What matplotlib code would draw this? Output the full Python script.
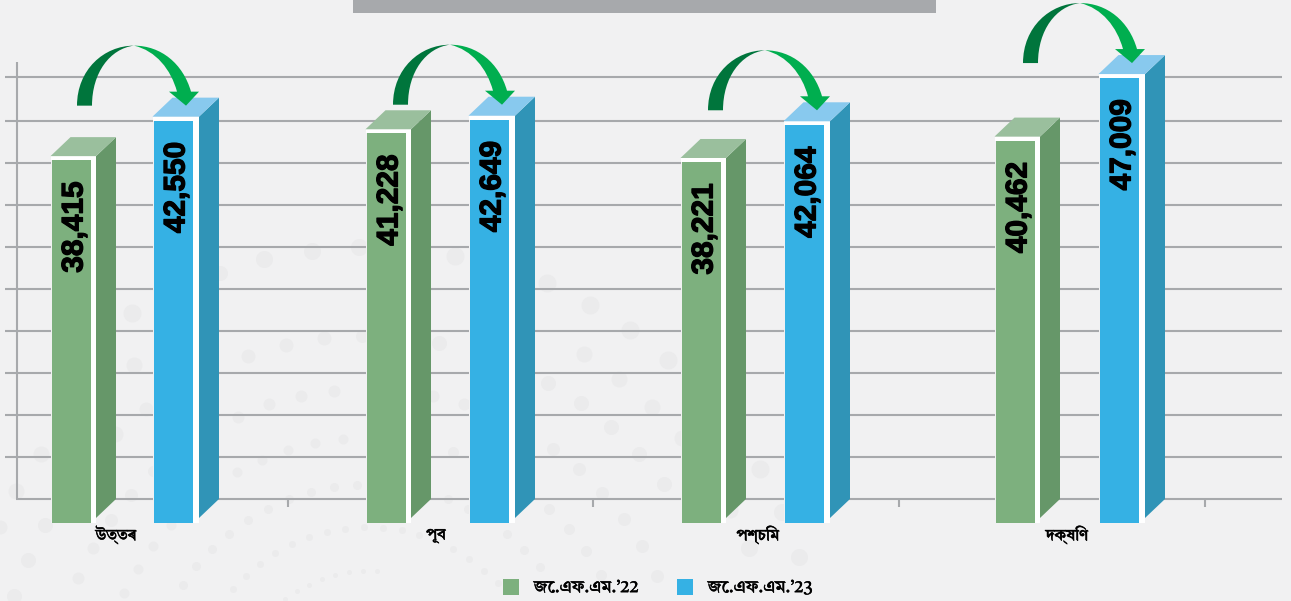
import matplotlib
matplotlib.use("Agg")
import matplotlib.pyplot as plt
import matplotlib.patheffects as pe
from matplotlib.patches import PathPatch, Rectangle
from matplotlib.path import Path

regions = ["উত্তৰ", "পূব", "পশ্চিম", "দক্ষিণ"]
series_names = ["জে.এফ.এম.’22", "জে.এফ.এম.’23"]
jfm_22 = [38415, 41228, 38221, 40462]
jfm_23 = [42550, 42649, 42064, 47009]

# layout, all in reference pixels
green_x = [52, 367, 682, 996]
blue_x = [154, 470, 785, 1100]
label_x = [116, 436, 758, 1067]
tick_x = [288, 593, 899, 1205]
grid_y = [77, 121, 163, 205, 247, 289, 331, 373, 415, 457]

BG = "#f1f1f2"
GREY = "#a7a9ac"
DOT = "#ebebec"
GREEN = ("#7db07e", "#669769", "#9abf9d")
BLUE = ("#35b1e4", "#3094b7", "#88c9ee")
ARROW_DARK = "#00753c"
ARROW_LIGHT = "#00ae4f"
BN_FONTS = ["Tiro Bangla", "Noto Sans Bengali", "DejaVu Sans"]

# faint dots of the page background: x, y, diameter in pixels
dots = [
    (264, 259, 17), (312, 251, 17), (359, 247, 17), (220, 273, 15), (132, 313, 18),
    (248, 356, 14), (286, 345, 14), (324, 338, 14), (362, 336, 13), (134, 365, 16),
    (301, 396, 12), (269, 404, 12), (334, 391, 12), (238, 417, 12), (146, 409, 14),
    (115, 434, 16), (315, 443, 10), (343, 439, 10), (288, 450, 10), (262, 460, 10),
    (237, 472, 10), (41, 454, 16), (16, 491, 16), (131, 495, 13), (153, 471, 11),
    (289, 499, 9), (311, 492, 9), (334, 487, 9), (357, 485, 9), (268, 509, 9),
    (248, 520, 9), (229, 534, 9), (212, 549, 9), (196, 566, 9), (183, 585, 9),
    (171, 525, 10), (153, 546, 10), (138, 569, 10), (124, 593, 10), (111, 520, 13),
    (93, 548, 12), (78, 578, 12), (45, 525, 15), (28, 560, 15), (14, 596, 15),
    (0, 527, 14), (345, 529, 7), (327, 532, 7), (309, 537, 7), (292, 544, 7),
    (275, 553, 7), (260, 564, 7), (246, 576, 7), (233, 589, 7), (364, 527, 7),
    (383, 528, 7), (377, 571, 5), (363, 571, 5), (349, 572, 5), (335, 575, 5),
    (322, 579, 5), (309, 585, 5), (297, 591, 5), (285, 599, 5), (455, 256, 18),
    (547, 283, 18), (590, 305, 18), (630, 330, 18), (439, 343, 15), (584, 354, 16),
    (668, 360, 18), (548, 383, 15), (619, 379, 16), (433, 396, 12), (464, 404, 12),
    (581, 403, 15), (652, 407, 16), (611, 427, 15), (682, 438, 16), (553, 449, 13),
    (639, 454, 15), (453, 452, 11), (579, 469, 13), (760, 469, 18), (664, 484, 15),
    (602, 493, 13), (448, 499, 9), (468, 509, 9), (549, 509, 11), (624, 519, 13),
    (730, 510, 16), (782, 512, 17), (569, 529, 11), (507, 534, 9), (419, 535, 7),
    (402, 530, 7), (453, 549, 7), (469, 559, 7), (484, 571, 7), (498, 583, 7),
    (524, 550, 9), (540, 567, 9), (586, 551, 11), (642, 546, 13), (749, 548, 17),
    (601, 575, 11), (657, 576, 13), (799, 557, 17),
]

# value scale: value 0 sits at pixel row 523
PX_PER_UNIT = 0.00955
BASE_PX = 523


def val(y_px):
    return (BASE_PX - y_px) / PX_PER_UNIT


def px(value):
    return BASE_PX - value * PX_PER_UNIT


def draw_bar(ax, x, value, colors, label, gap):
    front, side, top = colors
    top_px = px(value)
    right = x + gap
    # white frame behind the front face, only top and right show
    ax.bar(x - 1.5, value, width=right - x + 1.5, align="edge", color="white", zorder=3)
    ax.bar(x - 1.5, val(top_px + 4), width=1.5, align="edge", color=BG, zorder=3)
    ax.bar(x, val(top_px + 4), width=39, align="edge", color=front, zorder=4)
    ax.fill([right, right + 20, right + 20, right],
            [val(518), val(499), val(top_px - 19), val(top_px)], color=side, lw=0, zorder=3)
    ax.fill([x - 1.5, x + 18.5, right + 20, right],
            [val(top_px), val(top_px - 19), val(top_px - 19), val(top_px)],
            color=top, lw=0, zorder=3)
    ax.text(x + 22.5, val(top_px + 25), label, rotation=90, ha="center", va="top",
            family="Liberation Sans", fontweight="bold", fontsize=21.5, color="black", zorder=5,
            path_effects=[pe.withStroke(linewidth=0.9, foreground="black")])


def draw_arrow(ax, tip_x, tip_px):
    # control points are relative to the arrow tip, in pixels
    def pts(rel):
        return [(tip_x + dx, val(tip_px + dy)) for dx, dy in rel]

    C4 = Path.CURVE4
    dark = [(-109, 0), (-109, -36), (-82, -60), (-52, -60), (-76, -57), (-94, -33), (-94, 0), (-109, 0)]
    dark_codes = [Path.MOVETO, C4, C4, C4, C4, C4, C4, Path.CLOSEPOLY]
    ax.add_patch(PathPatch(Path(pts(dark), dark_codes), fc=ARROW_DARK, ec="none", zorder=6))
    light = [(-52, -60), (-25, -60), (-3, -42), (5, -14), (13, -14), (0, 0), (-17, -14), (-9, -14),
             (-15, -36), (-30, -55), (-52, -60), (-52, -60)]
    light_codes = [Path.MOVETO, C4, C4, C4, Path.LINETO, Path.LINETO, Path.LINETO, Path.LINETO,
                   C4, C4, C4, Path.CLOSEPOLY]
    ax.add_patch(PathPatch(Path(pts(light), light_codes), fc=ARROW_LIGHT, ec="none", zorder=6))


def main():
    plt.rcParams["font.family"] = BN_FONTS
    fig = plt.figure(figsize=(12.91, 6.01), dpi=100, facecolor=BG)
    ax = fig.add_axes([0, 0, 1, 1])
    ax.set_xlim(0, 1291)
    ax.set_ylim(val(601), val(0))
    ax.axis("off")

    # background dots
    for x, y, d in dots:
        ax.scatter(x, val(y), s=(d * 0.72) ** 2, color=DOT, lw=0, zorder=1)

    # grey strip cut by the top of the picture
    ax.add_patch(Rectangle((353, val(13)), 583, val(0) - val(13), fc=GREY, ec="none", zorder=2))

    # back wall
    ax.hlines([val(y) for y in grid_y], 5, 1282, color=GREY, lw=1.5, zorder=2)
    ax.hlines(val(499), 16, 1282, color=GREY, lw=1.5, zorder=2)
    ax.vlines(16.5, val(499), val(62), color=GREY, lw=1.5, zorder=2)
    ax.vlines(tick_x, val(507), val(499), color=GREY, lw=1.5, zorder=2)

    for i in range(len(regions)):
        draw_bar(ax, green_x[i], jfm_22[i], GREEN, f"{jfm_22[i]:,}", 44)
        draw_bar(ax, blue_x[i], jfm_23[i], BLUE, f"{jfm_23[i]:,}", 45)
        draw_arrow(ax, blue_x[i] + 32, px(jfm_23[i]) - 11)
        ax.text(label_x[i], val(535), regions[i], ha="center", va="center",
                fontsize=11.5, color="black", zorder=5,
                path_effects=[pe.withStroke(linewidth=0.4, foreground="black")])

    # legend
    for x_box, x_text, name, colors in zip([503, 677], [534, 708], series_names, [GREEN, BLUE]):
        ax.add_patch(Rectangle((x_box, val(595)), 16, val(579) - val(595),
                               fc=colors[0], ec="none", zorder=5))
        ax.text(x_text, val(588), name, ha="left", va="center", fontsize=12.5,
                color="black", zorder=5,
                path_effects=[pe.withStroke(linewidth=0.3, foreground="black")])

    fig.savefig("out.png", dpi=100, facecolor=BG)


if __name__ == "__main__":
    main()
